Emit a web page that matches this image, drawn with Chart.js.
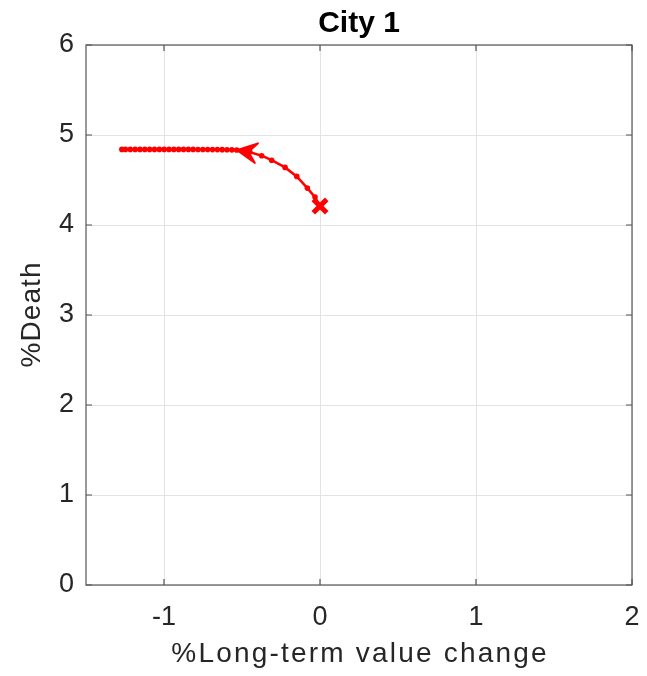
<!DOCTYPE html>
<html>
<head>
<meta charset="utf-8">
<script src="https://cdn.jsdelivr.net/npm/chart.js@4/dist/chart.umd.min.js"></script>
<style>
  html, body { margin: 0; padding: 0; background: #fff; }
  #wrap { width: 647px; height: 676px; }
</style>
</head>
<body>
<div id="wrap"><canvas id="chart" width="647" height="676"></canvas></div>
<script>
// ── Data ────────────────────────────────────────────────────────────────────
const titleText = 'City 1';
const xLabel    = '%Long-term value change';
const yLabel    = '%Death';

const xTicks = [-1, 0, 1, 2];
const yTicks = [0, 1, 2, 3, 4, 5, 6];

// trajectory, starting at the cross and heading left
const xVals = [0, -0.032, -0.081, -0.149, -0.224, -0.31, -0.374, -0.45, -0.534,
               -0.565, -0.596, -0.627, -0.658, -0.689, -0.72, -0.751, -0.782,
               -0.813, -0.844, -0.875, -0.906, -0.937, -0.968, -0.999, -1.03,
               -1.061, -1.092, -1.123, -1.154, -1.185, -1.216, -1.247, -1.27];
const yVals = [4.21, 4.31, 4.41, 4.54, 4.64, 4.72, 4.77, 4.81, 4.833,
               4.835, 4.836, 4.837, 4.838, 4.838, 4.839, 4.839, 4.839,
               4.84, 4.84, 4.84, 4.84, 4.84, 4.84, 4.84, 4.84,
               4.84, 4.84, 4.84, 4.84, 4.84, 4.84, 4.84, 4.84];

const arrowIdx = 8;   // arrowhead sits on this point
const RED = '#ff0000';
const TEXT = '#262626';
const FONT = "'Liberation Sans', Arial, Helvetica, sans-serif";

// ── Plugins ─────────────────────────────────────────────────────────────────

// axes box with inward ticks on all four sides
const boxPlugin = {
    id: 'boxPlugin',
    afterDraw(chart) {
        const { ctx, chartArea: a, scales } = chart;
        const len = 6;
        ctx.save();
        ctx.strokeStyle = '#555555';
        ctx.lineWidth = 1.2;
        ctx.strokeRect(a.left, a.top, a.right - a.left, a.bottom - a.top);
        ctx.beginPath();
        xTicks.forEach(v => {
            const px = scales.x.getPixelForValue(v);
            ctx.moveTo(px, a.bottom); ctx.lineTo(px, a.bottom - len);
            ctx.moveTo(px, a.top);    ctx.lineTo(px, a.top + len);
        });
        yTicks.forEach(v => {
            const py = scales.y.getPixelForValue(v);
            ctx.moveTo(a.left, py);  ctx.lineTo(a.left + len, py);
            ctx.moveTo(a.right, py); ctx.lineTo(a.right - len, py);
        });
        ctx.stroke();
        ctx.restore();
    }
};

// axis titles, slightly letter-spaced
const axisTitlePlugin = {
    id: 'axisTitlePlugin',
    afterDraw(chart) {
        const { ctx, chartArea: a } = chart;
        const hasSpacing = 'letterSpacing' in ctx;
        ctx.save();
        ctx.font = `28px ${FONT}`;
        ctx.fillStyle = TEXT;
        ctx.textAlign = 'center';
        ctx.textBaseline = 'middle';
        if (hasSpacing) ctx.letterSpacing = '2.2px';
        ctx.fillText(xLabel, (a.left + a.right) / 2 + 1.1, 654);
        if (hasSpacing) ctx.letterSpacing = '1.1px';
        ctx.translate(32, (a.top + a.bottom) / 2);
        ctx.rotate(-Math.PI / 2);
        ctx.fillText(yLabel, 0.5, 0);
        ctx.restore();
    }
};

// arrowhead showing the direction of the path
const arrowPlugin = {
    id: 'arrowPlugin',
    afterDatasetsDraw(chart) {
        const { ctx, scales } = chart;
        const tx = scales.x.getPixelForValue(xVals[arrowIdx]);
        const ty = scales.y.getPixelForValue(yVals[arrowIdx]);
        const px = scales.x.getPixelForValue(xVals[arrowIdx - 1]);
        const py = scales.y.getPixelForValue(yVals[arrowIdx - 1]);
        const ang = Math.atan2(ty - py, tx - px);
        const L = 20, W = 10, N = 12;
        const pt = (d, s) => [
            tx - d * Math.cos(ang) - s * Math.sin(ang),
            ty - d * Math.sin(ang) + s * Math.cos(ang)
        ];
        ctx.save();
        ctx.fillStyle = RED;
        ctx.strokeStyle = RED;
        ctx.lineWidth = 1.8;
        ctx.lineJoin = 'round';
        ctx.beginPath();
        ctx.moveTo(tx, ty);
        ctx.lineTo(...pt(L, W));
        ctx.lineTo(...pt(N, 0));
        ctx.lineTo(...pt(L, -W));
        ctx.closePath();
        ctx.fill();
        ctx.stroke();
        ctx.restore();
    }
};

// ── Chart ───────────────────────────────────────────────────────────────────

const pathPoints  = xVals.map((x, i) => ({ x, y: yVals[i] }));
const startPoints = [{ x: xVals[0], y: yVals[0] }];

new Chart(document.getElementById('chart'), {
    type: 'scatter',
    data: {
        datasets: [
            {
                data: pathPoints,
                showLine: true,
                borderColor: RED,
                backgroundColor: RED,
                borderWidth: 2.5,
                pointRadius: 2.8,
                pointBorderWidth: 0,
                tension: 0
            },
            {
                data: startPoints,
                pointStyle: 'crossRot',
                pointRadius: 9.5,
                borderColor: RED,
                pointBorderWidth: 5,
                showLine: false
            }
        ]
    },
    options: {
        responsive: false,
        animation: false,
        layout: { padding: { left: 0, right: 15, top: 0, bottom: 0 } },
        plugins: {
            legend: { display: false },
            tooltip: { enabled: false },
            title: {
                display: true,
                fullSize: false,
                text: titleText,
                color: '#000',
                font: { family: FONT, size: 30, weight: 'bold' },
                padding: { top: 5.5, bottom: 3.5 }
            }
        },
        scales: {
            x: {
                type: 'linear',
                min: -1.5, max: 2,
                afterBuildTicks: s => { s.ticks = xTicks.map(v => ({ value: v })); },
                afterFit: s => { s.height = 91; s.paddingLeft = 0; s.paddingRight = 0; },
                grid: { color: '#e3e3e3', lineWidth: 1, drawTicks: false },
                border: { display: false },
                ticks: { color: TEXT, padding: 16, font: { family: FONT, size: 27 } }
            },
            y: {
                type: 'linear',
                min: 0, max: 6,
                afterBuildTicks: s => { s.ticks = yTicks.map(v => ({ value: v })); },
                afterFit: s => { s.width = 86; s.paddingTop = 0; s.paddingBottom = 0; },
                grid: { color: '#e3e3e3', lineWidth: 1, drawTicks: false },
                border: { display: false },
                ticks: { color: TEXT, padding: 12, font: { family: FONT, size: 27 } }
            }
        }
    },
    plugins: [boxPlugin, arrowPlugin, axisTitlePlugin]
});
</script>
</body>
</html>
